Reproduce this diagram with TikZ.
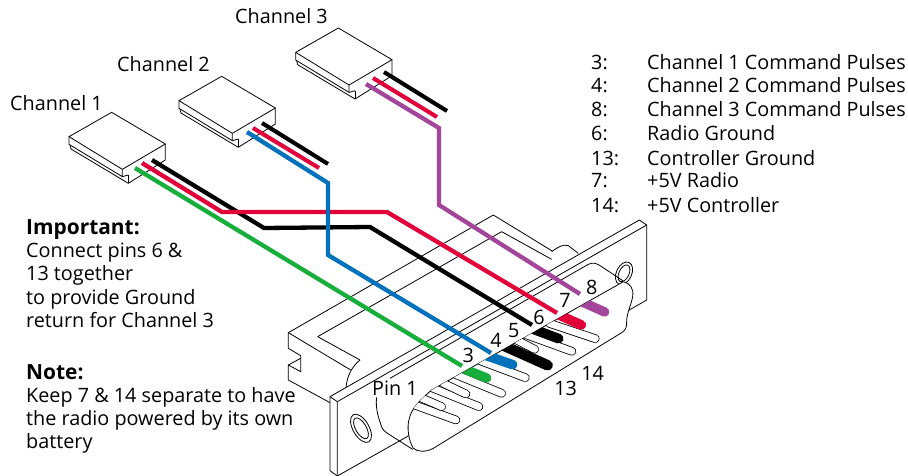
\documentclass[tikz,border=0pt]{standalone}
\usepackage{fontspec}
\setmainfont{Open Sans}
\definecolor{wgreen}{HTML}{17AE3C}
\definecolor{wred}{HTML}{E2003A}
\definecolor{wblue}{HTML}{0072BC}
\definecolor{wpurple}{HTML}{A3459B}
\newcommand{\lfs}{\fontsize{19.8}{24}\selectfont}
\newcommand{\bfs}{\fontsize{20.9}{24}\selectfont\bfseries}
\newcommand{\rxbox}[2]{%
\begin{scope}[shift={(#1,#2)},x=0.33333pt,y=-0.33333pt,line width=0.8pt,line join=round]
\draw[fill=white] (27,410)--(155,337)--(316,432)--(187,508)--cycle;
\draw (27,410)--(27,433)--(187,530)--(187,508);
\draw (30,436)--(33,447)--(205,550)--(316,480)--(316,432);
\draw (205,525)--(205,550);
\draw (187,530)--(205,525);
\end{scope}}
\newcommand{\whitepin}[2]{%
\draw[line width=8.6pt,line cap=round,black] #1--#2;
\draw[line width=7pt,line cap=round,white] #1--#2;}
\tikzset{
 wire/.style={line width=4.3pt,line join=miter,line cap=butt},
 thinwire/.style={line width=4.1pt,line cap=butt},
 lab/.style={font=\lfs,inner sep=0pt,anchor=base west},
 blab/.style={font=\bfs,inner sep=0pt,anchor=base west},
 pinlab/.style={font=\lfs,inner sep=0pt,anchor=center}
}
\begin{document}
\begin{tikzpicture}[x=1pt,y=-1pt]
\useasboundingbox (0,0) rectangle (908,476);
\fill[white] (0,0) rectangle (908,476);
% connector in zoom coordinates
\begin{scope}[shift={(280,200)},x=0.33333pt,y=-0.33333pt,line width=0.8pt,line join=round]
 % back shell
 \draw (25,398)--(640,45)--(815,152);
 \draw (815,155) .. controls (835,140) and (850,132) .. (865,137)--(895,160);
 \draw (113,410)--(665,95)--(815,178);
 \draw (113,410)--(240,480);
 \draw (240,480) .. controls (215,500) and (200,530) .. (198,565);
 \draw (25,398)--(212,510);
 \draw (25,398)--(25,445)--(62,467)--(62,515)--(25,495)--(25,540)--(150,608);
 \draw (62,475)--(25,495);
 % plate
 \draw[fill=white] (150,590)--(1078,60)--(1100,75)--(1100,300)--(1060,323)--(360,722)--(172,828)--(150,812)--cycle;
 \draw (172,605)--(1100,75);
 \draw (150,590)--(172,605)--(172,828);
 % holes
 \draw[rotate around={30:(243,685)}] (243,685) ellipse (24 and 47);
 \draw[rotate around={30:(243,685)}] (243,685) ellipse (16 and 35);
 \draw[rotate around={-25:(1032,220)},fill=white] (1032,220) ellipse (23 and 36);
 \draw[rotate around={-25:(1032,220)}] (1032,220) ellipse (15 and 27);
 % shell back outline
 \draw (330,535)--(925,193) .. controls (938,186) and (950,190) .. (962,198)--(1030,243);
 \draw (290,592) .. controls (285,625) and (298,660) .. (302,672) .. controls (306,690) and (315,695) .. (330,705)--(398,748);
 % shell front
 \path[fill=white,draw] (1030,245) .. controls (1050,250) and (1062,265) .. (1058,290) .. controls (1052,320) and (1040,340) .. (1040,365) .. controls (1040,382) and (1038,390) .. (1025,398)--(460,745) .. controls (435,758) and (412,755) .. (400,745) .. controls (385,720) and (380,680) .. (388,655) .. controls (395,625) and (420,600) .. (455,570)--cycle;
 \begin{scope}
  \clip (1030,245) .. controls (1050,250) and (1062,265) .. (1058,290)--(1025,398)--(460,745)--(400,745)--(388,655) .. controls (395,625) and (420,600) .. (455,570)--cycle;
  \whitepin{(808,370)}{(946,416)}
  \whitepin{(738,404)}{(876,454)}
  \whitepin{(600,482)}{(736,533)}
  \whitepin{(528,524)}{(665,580)}
  \whitepin{(458,564)}{(597,620)}
  \whitepin{(390,610)}{(528,660)}
  \whitepin{(420,592)}{(485,620)}
  \whitepin{(490,550)}{(558,582)}
  \whitepin{(700,415)}{(764,448)}
  \draw[line width=10.5pt,line cap=round,black] (660,432)--(803,496);
  \draw[line width=9.4pt,line cap=round,wpurple] (880,294)--(974,336);
  \draw[line width=9.6pt,line cap=round,wred] (815,335)--(904,375);
  \draw[line width=9.8pt,line cap=round,black] (740,380)--(836,416);
  \draw[line width=9.6pt,line cap=round,wblue] (605,462)--(698,494);
  \draw[line width=9.4pt,line cap=round,wgreen] (535,500)--(620,534);
 \end{scope}
 % pin labels
 \node[pinlab] (p3) at (565,467) {3};
 \node[pinlab] (p4) at (648,420) {4};
 \node[pinlab] (p5) at (701,392) {5};
 \node[pinlab] (p6) at (777,351) {6};
 \node[pinlab] (p7) at (855,302) {7};
 \node[pinlab] (p8) at (935,262) {8};
 \node[pinlab] (p13) at (857,564) {13};
 \node[pinlab] (p14) at (938,519) {14};
 \node[pinlab] (p1) at (345,566) {Pin 1};
\end{scope}
% housings
\rxbox{60}{0}
\rxbox{170}{-36}
\rxbox{286.7}{-84.3}
% wire ends
\coordinate (k1s) at (152,160);
\coordinate (k1e) at (532,325);
\coordinate (r1s) at (142,163);
\coordinate (r1e) at (557,313);
\coordinate (g1s) at (135,168);
\coordinate (g1e) at (462,366);
\coordinate (b2s) at (247,132);
\coordinate (b2e) at (491,353);
\coordinate (p3s) at (366,84);
\coordinate (p3e) at (580,294);
\draw[wire,black] (k1s)--(264,228)--(370,227)--(k1e);
\draw[wire,wred] (r1s)--(222,212)--(387,212)--(r1e);
\draw[wire,wblue] (b2s)--(328,183)--(328,255)--(b2e);
\draw[wire,wgreen] (g1s)--(g1e);
\draw[wire,wpurple] (p3s)--(439,128)--(439,205)--(p3e);
\coordinate (r2s) at (253,128); \coordinate (r2e) at (319,168);
\coordinate (k2s) at (262,123); \coordinate (k2e) at (328,164);
\coordinate (r3s) at (373,78); \coordinate (r3e) at (437,117);
\coordinate (k3s) at (384,72); \coordinate (k3e) at (447,111);
\draw[thinwire,wred] (r2s)--(r2e);
\draw[thinwire,black] (k2s)--(k2e);
\draw[thinwire,wred] (r3s)--(r3e);
\draw[thinwire,black] (k3s)--(k3e);
% labels
\node[lab] (c1) at (10,111) {Channel 1};
\node[lab] (c2) at (117,72) {Channel 2};
\node[lab] (c3) at (235,24) {Channel 3};
\node[blab] (imp) at (26,234) {Important:};
\node[lab] (i1) at (26,257) {Connect pins 6 \&};
\node[lab] (i2) at (26,280) {13 together};
\node[lab] (i3) at (26,304) {to provide Ground};
\node[lab] (i4) at (26,327) {return for Channel 3};
\node[blab] (nt) at (26,379) {Note:};
\node[lab] (n1) at (26,402) {Keep 7 \& 14 separate to have};
\node[lab] (n2) at (26,425) {the radio powered by its own};
\node[lab] (n3) at (26,448) {battery};
\foreach \yy/\nn/\tt in {70/3:/Channel 1 Command Pulses,93/4:/Channel 2 Command Pulses,117/8:/Channel 3 Command Pulses,141/6:/Radio Ground,165/13:/Controller Ground,188/7:/+5V Radio,212/14:/+5V Controller}{
 \node[lab] at (591,\yy) {\nn};
 \node[lab] at (647,\yy) {\tt};
}
\end{tikzpicture}
\end{document}
